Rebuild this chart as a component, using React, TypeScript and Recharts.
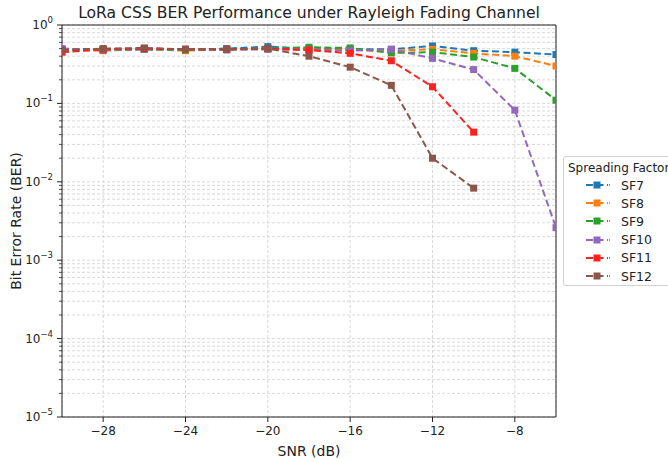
import React from 'react';
import { LineChart, Line, XAxis, YAxis, CartesianGrid, Legend, ReferenceArea, Label } from 'recharts';

const snr = [-30, -28, -26, -24, -22, -20, -18, -16, -14, -12, -10, -8, -6];
const sf7 = [0.49, 0.49, 0.49, 0.48, 0.5, 0.53, 0.5, 0.49, 0.49, 0.54, 0.47, 0.45, 0.42];
const sf8 = [0.48, 0.47, 0.49, 0.47, 0.49, 0.5, 0.49, 0.48, 0.47, 0.49, 0.435, 0.4, 0.3];
const sf9 = [0.48, 0.48, 0.49, 0.48, 0.49, 0.5, 0.52, 0.51, 0.44, 0.45, 0.39, 0.28, 0.11];
const sf10 = [0.5, 0.48, 0.49, 0.49, 0.48, 0.49, 0.48, 0.47, 0.49, 0.375, 0.27, 0.082, 0.0026];
const sf11 = [0.45, 0.49, 0.5, 0.49, 0.49, 0.5, 0.48, 0.435, 0.35, 0.163, 0.043, null, null];
const sf12 = [0.48, 0.5, 0.51, 0.49, 0.49, 0.5, 0.4, 0.29, 0.17, 0.02, 0.0083, null, null];

const seriesNames = ['SF7', 'SF8', 'SF9', 'SF10', 'SF11', 'SF12'];
const seriesValues = [sf7, sf8, sf9, sf10, sf11, sf12];
const colors = ['#1f77b4', '#ff7f0e', '#2ca02c', '#9467bd', '#ff2020', '#8c564b'];

const xTicks = [-28, -24, -20, -16, -12, -8];
const majorExps = [-5, -4, -3, -2, -1, 0];

// log axis ticks: decades plus 2..9 minors (used for the grid)
const yTicks: number[] = [];
majorExps.forEach((e) => {
  yTicks.push(Math.pow(10, e));
  if (e < 0) for (let k = 2; k <= 9; k++) yTicks.push(Number((k * Math.pow(10, e)).toPrecision(3)));
});

const data = snr.map((x, i) => {
  const row: Record<string, number | null> = { snr: x };
  seriesNames.forEach((n, j) => (row[n] = seriesValues[j][i]));
  return row;
});

const FONT = 'DejaVu Sans, sans-serif';

const YTick = (props: any) => {
  const { x, y, payload } = props;
  const v = payload.value;
  const lg = Math.log10(v);
  const major = Math.abs(lg - Math.round(lg)) < 1e-6;
  if (!major) {
    return <line x1={x - 3} x2={x} y1={y} y2={y} stroke="#222" strokeWidth={0.8} />;
  }
  const e = Math.round(lg);
  const expText = e < 0 ? `\u2212${Math.abs(e)}` : `${e}`;
  return (
    <g>
      <line x1={x - 5} x2={x} y1={y} y2={y} stroke="#222" strokeWidth={1} />
      <text x={x - 9} y={y + 4} textAnchor="end" fontSize={12} fill="#222" fontFamily={FONT}>
        10
        <tspan dy={-6} fontSize={8.5}>{expText}</tspan>
      </text>
    </g>
  );
};

const squareDot = (color: string) => (props: any) => {
  const { cx, cy, index } = props;
  if (cx == null || cy == null || props.value == null) return <g key={index} />;
  return <rect key={index} x={cx - 3.5} y={cy - 3.5} width={7} height={7} fill={color} />;
};

const LegendBox = () => (
  <div
    style={{
      border: '1px solid #d0d0d0',
      borderRadius: 3,
      background: '#fff',
      width: 120,
      height: 130,
      boxSizing: 'border-box',
      fontFamily: FONT,
      fontSize: 12,
      color: '#222',
      padding: '3px 0 0 4px',
    }}
  >
    <div style={{ lineHeight: '16px', whiteSpace: 'nowrap' }}>Spreading Factor</div>
    {seriesNames.map((n, i) => (
      <div key={n} style={{ display: 'flex', alignItems: 'center', height: 18.2 }}>
        <svg width={48} height={12} style={{ marginLeft: 18 }}>
          <line x1={0} x2={22} y1={6} y2={6} stroke={colors[i]} strokeWidth={2} strokeDasharray="7 3.5" />
          <line x1={23} x2={24} y1={6} y2={6} stroke={colors[i]} strokeWidth={1.5} />
          <rect x={7.5} y={2.5} width={7} height={7} fill={colors[i]} />
        </svg>
        <span style={{ marginLeft: -13, fontSize: 12.5 }}>{n}</span>
      </div>
    ))}
  </div>
);

export default function App() {
  return (
    <div style={{ position: 'absolute', left: 0, top: 0, width: 668, height: 459, overflow: 'hidden', background: '#fff' }}>
      <div
        style={{
          position: 'absolute',
          left: 62,
          width: 494,
          top: 4,
          textAlign: 'center',
          fontFamily: FONT,
          fontSize: 15.6,
          color: '#222',
          zIndex: 2,
          whiteSpace: 'nowrap',
        }}
      >
        LoRa CSS BER Performance under Rayleigh Fading Channel
      </div>
      <LineChart width={668} height={459} data={data} margin={{ top: 25, right: 112, bottom: 0, left: 0 }}>
        <CartesianGrid stroke="#cfcfcf" strokeDasharray="3 2" strokeWidth={0.8} />
        <XAxis
          dataKey="snr"
          type="number"
          domain={[-30, -6]}
          allowDataOverflow
          ticks={xTicks}
          interval={0}
          height={42}
          tickSize={5}
          tickMargin={4}
          axisLine={false}
          tickLine={{ stroke: '#222' }}
          tick={{ fontSize: 12, fill: '#222', fontFamily: FONT }}
          tickFormatter={(v: number) => (v < 0 ? `\u2212${Math.abs(v)}` : `${v}`)}
        >
          <Label value="SNR (dB)" position="insideBottom" offset={3} style={{ fontSize: 14, fill: '#222', fontFamily: FONT }} />
        </XAxis>
        <YAxis
          type="number"
          scale="log"
          domain={[1e-5, 1]}
          allowDataOverflow
          ticks={yTicks}
          interval={0}
          width={62}
          tickSize={0}
          tickMargin={0}
          tickLine={false}
          axisLine={false}
          tick={<YTick />}
          label={{
            content: (p: any) => {
              const vb = p.viewBox || { x: 0, y: 25, width: 62, height: 392 };
              const cx = vb.x + 16;
              const cy = vb.y + vb.height / 2;
              return (
                <text
                  x={cx}
                  y={cy}
                  transform={`rotate(-90 ${cx} ${cy})`}
                  textAnchor="middle"
                  dominantBaseline="central"
                  fontSize={14}
                  fill="#222"
                  fontFamily={FONT}
                >
                  Bit Error Rate (BER)
                </text>
              );
            },
          }}
        />
        {seriesNames.map((n, i) => (
          <Line
            key={n}
            dataKey={n}
            stroke={colors[i]}
            strokeWidth={2}
            strokeDasharray="7 3.5"
            dot={squareDot(colors[i])}
            activeDot={false}
            isAnimationActive={false}
            connectNulls={false}
            type="linear"
          />
        ))}
        <ReferenceArea x1={-30} x2={-6} y1={1e-5} y2={1} fill="none" stroke="#222" strokeWidth={1} ifOverflow="visible" />
        <Legend
          layout="vertical"
          align="center"
          verticalAlign="middle"
          content={() => <LegendBox />}
          wrapperStyle={{ left: 563, top: 156, width: 120, height: 131 }}
        />
      </LineChart>
    </div>
  );
}
